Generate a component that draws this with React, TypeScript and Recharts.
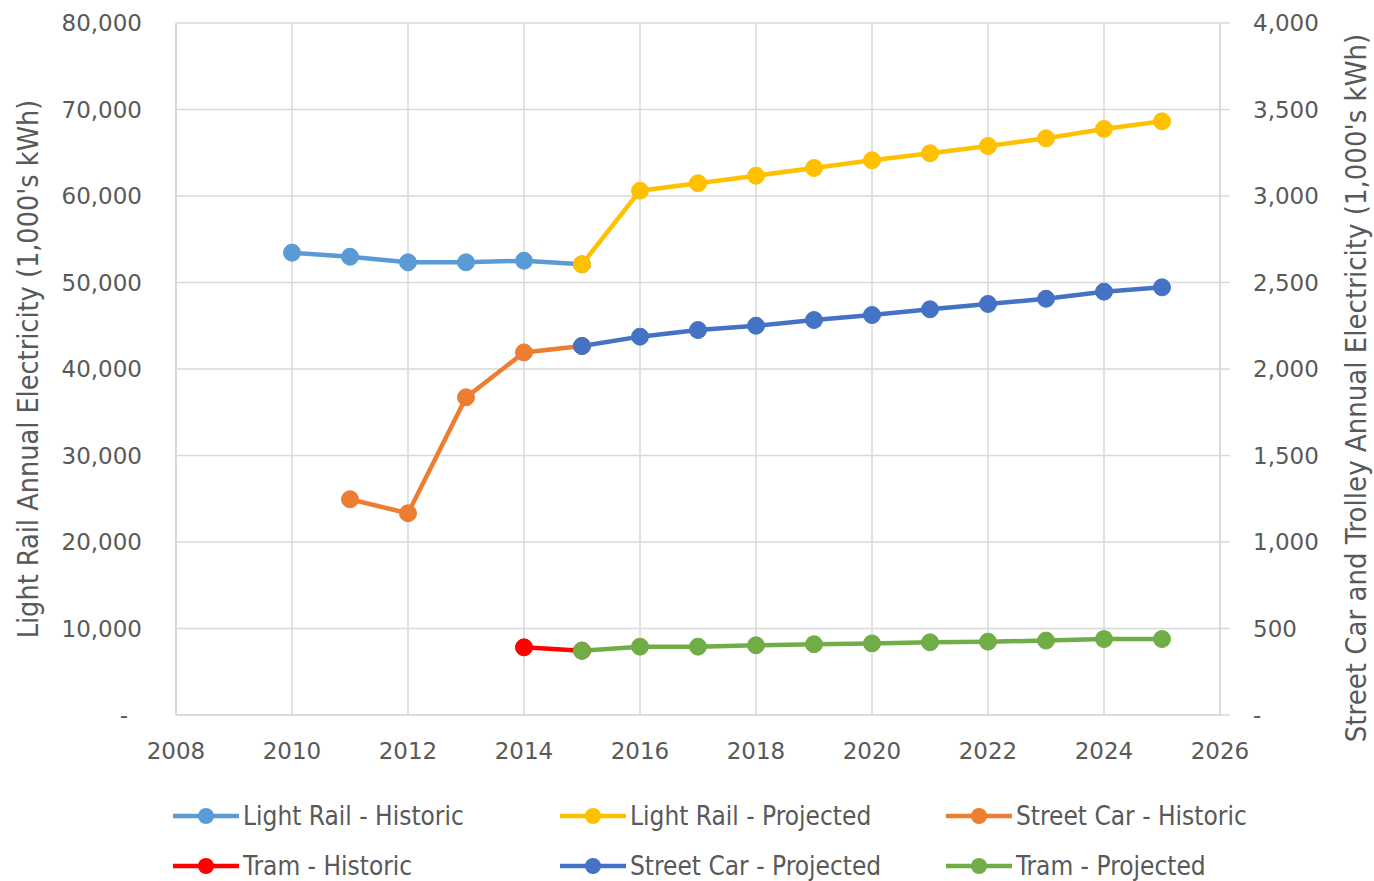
import { LineChart, Line, XAxis, YAxis, CartesianGrid } from "recharts";

const years = [2010, 2011, 2012, 2013, 2014, 2015, 2016, 2017, 2018, 2019, 2020, 2021, 2022, 2023, 2024, 2025];

// left axis (1,000's kWh)
const lightRailHistoric = [53450, 52980, 52330, 52330, 52520, 52100, null, null, null, null, null, null, null, null, null, null];
const lightRailProjected = [null, null, null, null, null, 52100, 60610, 61470, 62350, 63240, 64130, 64940, 65780, 66670, 67750, 68630];

// right axis (1,000's kWh)
const streetCarHistoric = [null, 1247, 1166, 1836, 2096, 2133, null, null, null, null, null, null, null, null, null, null];
const tramHistoric = [null, null, null, null, 391, 372, null, null, null, null, null, null, null, null, null, null];
const streetCarProjected = [null, null, null, null, null, 2133, 2187, 2225, 2250, 2283, 2312, 2345, 2376, 2406, 2447, 2472];
const tramProjected = [null, null, null, null, null, 372, 395, 395, 403, 409, 414, 420, 424, 430, 439, 439];

const xTicks = [2008, 2010, 2012, 2014, 2016, 2018, 2020, 2022, 2024, 2026];
const leftTicks = [0, 10000, 20000, 30000, 40000, 50000, 60000, 70000, 80000];
const rightTicks = [0, 500, 1000, 1500, 2000, 2500, 3000, 3500, 4000];

const data = years.map((year, i) => ({
  year,
  lrh: lightRailHistoric[i],
  lrp: lightRailProjected[i],
  sch: streetCarHistoric[i],
  th: tramHistoric[i],
  scp: streetCarProjected[i],
  tp: tramProjected[i],
}));

const series = [
  { key: "lrh", name: "Light Rail - Historic", color: "#5B9BD5", axis: "left" },
  { key: "lrp", name: "Light Rail - Projected", color: "#FFC000", axis: "left" },
  { key: "sch", name: "Street Car - Historic", color: "#ED7D31", axis: "right" },
  { key: "th", name: "Tram - Historic", color: "#FF0000", axis: "right" },
  { key: "scp", name: "Street Car - Projected", color: "#4472C4", axis: "right" },
  { key: "tp", name: "Tram - Projected", color: "#70AD47", axis: "right" },
];

const textColor = "#595959";
const gridColor = "#D9D9D9";
const tickFont = "'DejaVu Sans', sans-serif";
const titleFont = "'Liberation Sans Narrow', 'DejaVu Sans Condensed', Roboto, sans-serif";

const fmt = (v: number) => (v === 0 ? "-" : v.toLocaleString("en-US"));

function LeftTick({ x, y, payload }: any) {
  return (
    <text x={x} y={y} dx={payload.value === 0 ? -14 : 0} textAnchor="end" dominantBaseline="central"
      fill={textColor} fontSize={23} fontFamily={tickFont}>
      {fmt(payload.value)}
    </text>
  );
}

function ChartLegend() {
  const cols = [173, 560, 946];
  return (
    <div style={{ position: "absolute", left: 0, top: 790, width: 1374, height: 91 }}>
      {series.map((s, i) => {
        const left = cols[i % 3];
        const top = i < 3 ? 10 : 60;
        return (
          <div key={s.key} style={{ position: "absolute", left, top, display: "flex", alignItems: "center", height: 32 }}>
            <svg width={66} height={20}>
              <line x1={0} y1={10} x2={66} y2={10} stroke={s.color} strokeWidth={4.5} />
              <circle cx={33} cy={10} r={8} fill={s.color} />
            </svg>
            <span style={{ marginLeft: 4, fontFamily: titleFont, fontSize: 26, color: textColor, whiteSpace: "nowrap" }}>
              {s.name}
            </span>
          </div>
        );
      })}
    </div>
  );
}

export default function App() {
  return (
    <div style={{ position: "absolute", left: 0, top: 0, width: 1374, height: 881, background: "#fff" }}>
      <LineChart width={1374} height={881} data={data} margin={{ top: 23, right: 0, bottom: 0, left: 0 }}>
        <CartesianGrid stroke={gridColor} strokeWidth={1.5} yAxisId="left" />
        <XAxis
          dataKey="year"
          type="number"
          domain={[2008, 2026]}
          ticks={xTicks}
          stroke={gridColor}
          strokeWidth={1.5}
          tickLine={false}
          tickSize={0}
          tickMargin={28}
          height={166}
          tick={{ fill: textColor, fontSize: 23, fontFamily: tickFont }}
        />
        <YAxis
          yAxisId="left"
          orientation="left"
          domain={[0, 80000]}
          ticks={leftTicks}
          width={176}
          stroke={gridColor}
          strokeWidth={1.5}
          tickLine={false}
          tickSize={0}
          tickMargin={34}
          tick={<LeftTick />}
          label={{
            content: () => (
              <text transform="translate(28,369) rotate(-90)" textAnchor="middle" dominantBaseline="central"
                fill={textColor} fontSize={28.5} fontFamily={titleFont}>
                Light Rail Annual Electricity (1,000's kWh)
              </text>
            ),
          }}
        />
        <YAxis
          yAxisId="right"
          orientation="right"
          domain={[0, 4000]}
          ticks={rightTicks}
          width={154}
          stroke={gridColor}
          strokeWidth={1.5}
          tickLine={{ stroke: gridColor, strokeWidth: 1.5 }}
          tickSize={10}
          tickMargin={23}
          tickFormatter={fmt}
          tick={{ fill: textColor, fontSize: 23, fontFamily: tickFont }}
          label={{
            content: () => (
              <text transform="translate(1356,388) rotate(-90)" textAnchor="middle" dominantBaseline="central"
                fill={textColor} fontSize={29} fontFamily={titleFont}>
                Street Car and Trolley Annual Electricity (1,000's kWh)
              </text>
            ),
          }}
        />
        {series.map((s) => (
          <Line
            key={s.key}
            yAxisId={s.axis}
            dataKey={s.key}
            name={s.name}
            stroke={s.color}
            strokeWidth={4.5}
            dot={{ r: 8.5, fill: s.color, stroke: s.color, strokeWidth: 1 }}
            activeDot={false}
            isAnimationActive={false}
            connectNulls={false}
          />
        ))}
      </LineChart>
      <ChartLegend />
    </div>
  );
}
